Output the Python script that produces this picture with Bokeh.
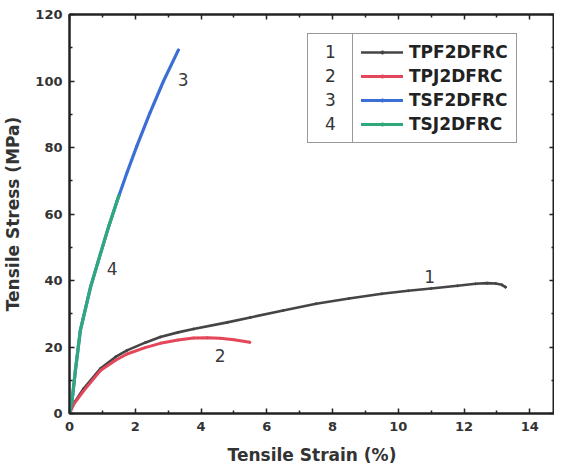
from bokeh.plotting import figure
from bokeh.models import (Range1d, FixedTicker, LinearAxis, Legend, LegendItem,
                          ColumnDataSource, CustomJSTickFormatter)
from bokeh.core.properties import value
from bokeh.embed import file_html
from bokeh.resources import INLINE

# ---- data ----
tpf_strain = [0, 0.13, 0.43, 0.94, 1.4, 1.75, 2.3, 2.76, 3.3, 3.77, 4.8, 5.5, 6.5, 7.5, 8.5, 9.5, 10.3, 11.0, 11.8, 12.35, 12.7, 12.96, 13.15, 13.26]
tpf_stress = [0, 3.0, 7.5, 13.5, 17.0, 19.0, 21.3, 23.0, 24.4, 25.4, 27.4, 28.9, 31.0, 33.0, 34.6, 36.0, 36.9, 37.6, 38.4, 39.0, 39.2, 39.1, 38.7, 38.0]

tpj_strain = [0, 0.13, 0.43, 0.94, 1.4, 1.75, 2.3, 2.76, 3.3, 3.77, 4.2, 4.58, 5.0, 5.48]
tpj_stress = [0, 2.8, 6.8, 12.9, 16.0, 17.9, 19.8, 21.1, 22.1, 22.7, 22.8, 22.6, 22.2, 21.4]

tsf_strain = [0, 0.08, 0.18, 0.33, 0.64, 0.94, 1.2, 1.45, 1.75, 2.05, 2.45, 2.86, 3.31]
tsf_stress = [0, 4.0, 13.0, 25.0, 38.0, 48.0, 56.5, 64.0, 72.5, 80.5, 90.5, 100.0, 109.3]

tsj_strain = [0, 0.08, 0.18, 0.33, 0.64, 0.94, 1.2, 1.5]
tsj_stress = [0, 4.0, 13.0, 25.0, 38.0, 48.0, 56.5, 65.5]

series_names = ["TPF2DFRC", "TPJ2DFRC", "TSF2DFRC", "TSJ2DFRC"]
series_nums = ["1", "2", "3", "4"]
colors = ["#454545", "#e4475a", "#3b6fd6", "#2fa87c"]

# curve number labels placed in data space
lab_text = ["1", "2", "3", "4"]
lab_x = [10.95, 4.58, 3.46, 1.3]
lab_y = [41.3, 17.4, 100.5, 43.6]

x_ticks = [0, 2, 4, 6, 8, 10, 12, 14]
x_minor = [1, 3, 5, 7, 9, 11, 13]
y_ticks = [0, 20, 40, 60, 80, 100, 120]
y_minor = [10, 30, 50, 70, 90, 110]

FONT = "DejaVu Sans"

p = figure(width=554, height=468, output_backend="svg", toolbar_location=None,
           x_range=Range1d(0, 14.75), y_range=Range1d(0, 120),
           min_border_left=61, min_border_top=14, min_border_bottom=55, min_border_right=0)
p.grid.visible = False
p.outline_line_color = "#222222"
p.outline_line_width = 2
p.background_fill_color = "white"
p.border_fill_color = "white"

def style_axis(ax, ticks, minor, show_labels=True):
    ax.ticker = FixedTicker(ticks=ticks, minor_ticks=minor)
    ax.axis_line_color = "#222222"
    ax.axis_line_width = 2
    ax.major_tick_in = 5
    ax.major_tick_out = 0
    ax.minor_tick_in = 3
    ax.minor_tick_out = 0
    ax.major_tick_line_width = 1.5
    ax.minor_tick_line_width = 1.5
    ax.major_tick_line_color = "#222222"
    ax.minor_tick_line_color = "#222222"
    if show_labels:
        ax.major_label_text_font = FONT
        ax.major_label_text_font_style = "bold"
        ax.major_label_text_font_size = "13px"
        ax.major_label_text_color = "#333333"
        ax.axis_label_text_font = FONT
        ax.axis_label_text_font_style = "bold"
        ax.axis_label_text_font_size = "17px"
        ax.axis_label_text_color = "#333333"
    else:
        ax.formatter = CustomJSTickFormatter(code="return '';")
        ax.major_label_standoff = 0
        ax.axis_label = None

style_axis(p.xaxis[0], x_ticks, x_minor)
style_axis(p.yaxis[0], y_ticks, y_minor)
p.xaxis[0].axis_label = "Tensile Strain (%)"
p.yaxis[0].axis_label = "Tensile Stress (MPa)"
p.xaxis[0].major_label_standoff = 8
p.xaxis[0].axis_label_standoff = 11
p.yaxis[0].major_label_standoff = 7
p.yaxis[0].axis_label_standoff = 9

top_ax = LinearAxis()
right_ax = LinearAxis()
style_axis(top_ax, x_ticks, x_minor, show_labels=False)
style_axis(right_ax, y_ticks, y_minor, show_labels=False)
p.add_layout(top_ax, "above")
p.add_layout(right_ax, "right")

xs = [tpf_strain, tpj_strain, tsf_strain, tsj_strain]
ys = [tpf_stress, tpj_stress, tsf_stress, tsj_stress]
widths = [2.6, 3.0, 3.2, 3.2]

line_rs = []
dot_rs = []
for x, y, c, w in zip(xs, ys, colors, widths):
    src = ColumnDataSource(dict(x=x, y=y))
    lr = p.line("x", "y", source=src, line_color=c, line_width=w, line_join="round", line_cap="round")
    dr = p.scatter("x", "y", source=src, size=2, marker="circle", fill_color=c, line_color=c)
    line_rs.append(lr)
    dot_rs.append(dr)

# number labels next to curves
p.text(x=lab_x, y=lab_y, text=lab_text, text_font=value(FONT), text_font_size="17px",
       text_color="#3a3a3a", text_align="center", text_baseline="middle")

# legend: number column
num_items = [LegendItem(label=n, renderers=[lr]) for n, lr in zip(series_nums, line_rs)]
num_leg = Legend(items=num_items, location=(238, 270), glyph_width=0, glyph_height=20,
                 label_height=20, label_width=20, label_standoff=9, padding=8, spacing=4,
                 margin=0, label_text_font=FONT, label_text_font_size="17px",
                 label_text_color="#333333", border_line_color="#333333", border_line_width=1.5,
                 background_fill_color="white", background_fill_alpha=1.0)
# legend: series column
ser_items = [LegendItem(label=s, renderers=[lr, dr]) for s, lr, dr in zip(series_names, line_rs, dot_rs)]
ser_leg = Legend(items=ser_items, location=(283, 270), glyph_width=42, glyph_height=8,
                 label_height=20, label_standoff=6, padding=8, spacing=4, margin=0,
                 label_text_font=FONT, label_text_font_style="bold", label_text_font_size="17px",
                 label_text_color="#222222", border_line_color="#333333", border_line_width=1.5,
                 background_fill_color="white", background_fill_alpha=1.0)
p.add_layout(num_leg, "center")
p.add_layout(ser_leg, "center")

open("out.html", "w").write(file_html(p, INLINE))
